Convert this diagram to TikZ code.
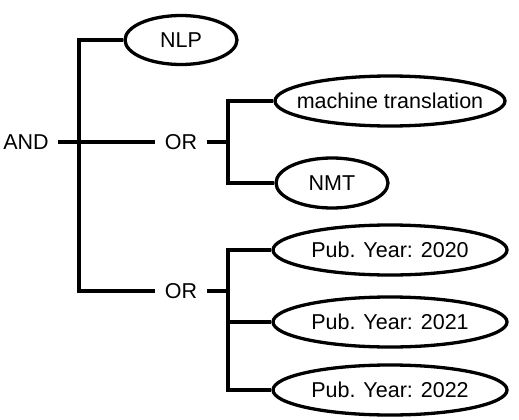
\documentclass[tikz,border=0pt]{standalone}
\usepackage{fontspec}
\setmainfont{Liberation Sans}
\usetikzlibrary{shapes.geometric}
\begin{document}
\begin{tikzpicture}[x=1pt,y=-1pt,
  wire/.style={line width=3.3pt},
  oval/.style={ellipse,draw,line width=3.3pt,inner sep=0pt,minimum height=50pt,font=\fontsize{21.5}{24}\selectfont},
  label/.style={inner xsep=10pt,inner ysep=0pt,font=\fontsize{21.5}{24}\selectfont}]
\useasboundingbox (0,0) rectangle (519,420);
\node[label,inner xsep=0pt] (AND) at (26,142) {AND};
\node[label] (OR1) at (181,142) {OR};
\node[label] (OR2) at (181,291) {OR};
\node[oval,minimum width=112pt,minimum height=49pt] (NLP) at (181,40) {NLP};
\node[oval,minimum width=230pt,inner xsep=-12pt] (MT) at (390,101) {machine translation};
\node[oval,minimum width=112pt] (NMT) at (332,183) {NMT};
\node[oval,minimum width=234pt] (P20) at (390,250) {Pub. Year: 2020};
\node[oval,minimum width=234pt] (P21) at (390,322) {Pub. Year: 2021};
\node[oval,minimum width=234pt] (P22) at (390,390) {Pub. Year: 2022};
\coordinate (v1t) at (79,40);
\coordinate (v1b) at (79,291);
\coordinate (andstart) at (58,142);
\coordinate (v2) at (228,142);
\coordinate (v3) at (228,291);
\draw[wire] (andstart) -- (OR1.west);
\draw[wire] (NLP.west) -- (v1t) -- (v1b) -- (OR2.west);
\draw[wire] (OR1.east) -- (v2);
\draw[wire] (MT.west) -| (v2) |- (NMT.west);
\draw[wire] (OR2.east) -- (v3);
\draw[wire] (P20.west) -| (v3) |- (P22.west);
\draw[wire] (v3) |- (P21.west);
\end{tikzpicture}
\end{document}
